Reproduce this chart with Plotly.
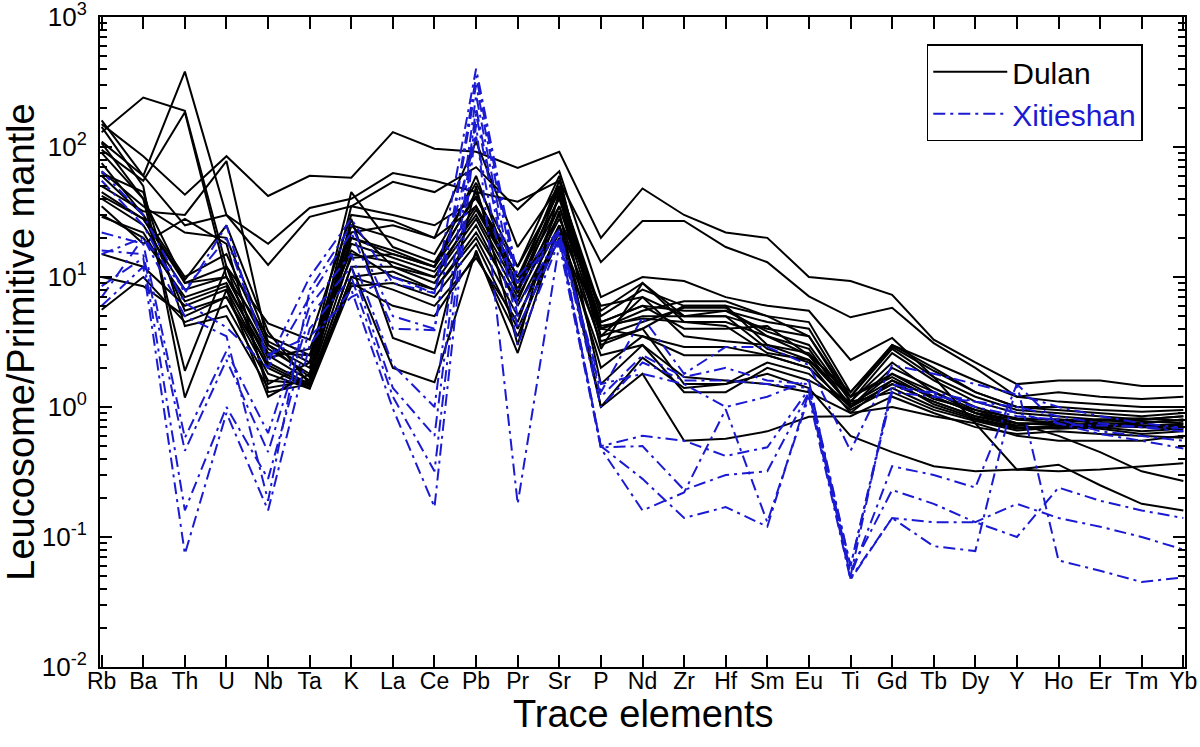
import plotly.graph_objects as go

elements = ["Rb", "Ba", "Th", "U", "Nb", "Ta", "K", "La", "Ce", "Pb", "Pr", "Sr", "P", "Nd",
            "Zr", "Hf", "Sm", "Eu", "Ti", "Gd", "Tb", "Dy", "Y", "Ho", "Er", "Tm", "Yb"]

# Dulan leucosomes (primitive-mantle normalised)
dulan = [
    [150, 85, 43, 85, 42, 60, 58, 130, 97, 92, 69, 92, 20, 48, 30, 22, 20, 10, 9.3, 7.3, 3.3, 2.2, 1.5, 1.6, 1.6, 1.45, 1.45],
    [110, 60, 25, 30, 18, 34, 40, 63, 55, 45, 38, 55, 13, 27, 27, 17, 13, 7.1, 4.9, 5.8, 3.1, 2.0, 1.2, 1.3, 1.2, 1.15, 1.2],
    [160, 60, 380, 30, 12.4, 29, 35, 54, 45, 70, 33, 65, 7, 10, 9.3, 7, 6, 5.5, 2.3, 3.4, 1.7, 0.75, 0.33, 0.36, 0.25, 0.18, 0.16],
    [130, 240, 190, 12, 4.4, 3.3, 30, 27, 20, 110, 17, 50, 5, 8, 6, 6, 5, 4.5, 1.3, 3.0, 2.0, 1.3, 1.0, 0.95, 0.9, 0.85, 0.9],
    [95, 55, 185, 10, 3.5, 2.5, 25, 20, 15, 53, 12, 45, 4.5, 6, 5.5, 5.5, 4.5, 4, 1.2, 2.8, 1.7, 1.2, 0.95, 0.9, 0.85, 0.8, 0.85],
    [65, 35, 22, 20, 3.2, 2.2, 45, 17, 13, 42, 10, 40, 4, 5, 5, 5, 4, 3.5, 1.1, 2.6, 1.6, 1.1, 0.9, 0.85, 0.8, 0.75, 0.8],
    [60, 30, 10, 15, 3.0, 2.0, 20, 15, 12, 35, 9, 35, 3.5, 4.5, 5.8, 5.8, 3.5, 2.5, 1.0, 2.0, 1.4, 1.0, 0.8, 0.75, 0.72, 0.7, 0.72],
    [45, 28, 9, 12, 2.8, 1.8, 18, 14, 11, 30, 8, 30, 3.0, 4, 6, 6, 3, 2.3, 1.2, 1.8, 1.3, 0.95, 0.75, 0.72, 0.7, 0.65, 0.68],
    [40, 25, 8, 10, 2.5, 1.6, 15, 13, 10, 28, 7, 28, 6, 7, 5, 5, 2.8, 2.2, 0.9, 1.6, 1.2, 0.9, 0.7, 0.7, 0.68, 0.62, 0.65],
    [30, 20, 7, 9, 2.2, 1.5, 12, 12, 9, 25, 6, 25, 4, 3.5, 2.9, 2.9, 2.5, 2.0, 1.0, 1.5, 1.1, 0.85, 0.72, 0.78, 0.8, 0.78, 0.75],
    [15, 12, 6, 8, 2.0, 1.4, 10, 11, 8, 20, 5, 22, 3.2, 4, 1.5, 1.5, 2.2, 1.8, 0.95, 1.4, 1.0, 0.8, 0.68, 0.72, 0.75, 0.72, 0.7],
    [10, 8.5, 5, 7, 1.8, 1.38, 8.5, 9, 7, 18, 4, 20, 2.5, 3, 1.3, 1.3, 2.0, 1.6, 1.1, 1.3, 0.95, 0.78, 0.66, 0.7, 0.72, 0.7, 0.68],
    [5.6, 10, 4.5, 6, 1.6, 1.5, 12, 2.0, 1.55, 16, 2.6, 25, 1.0, 1.8, 0.55, 0.57, 0.65, 0.84, 0.85, 1.2, 0.9, 0.7, 0.62, 0.65, 0.62, 0.6, 0.58],
    [63, 45, 4.2, 5, 1.4, 1.6, 28, 3.4, 2.6, 50, 3.0, 45, 1.5, 3, 1.7, 1.6, 1.5, 1.3, 0.9, 1.0, 0.85, 0.75, 0.6, 0.55, 0.55, 0.55, 0.6],
    [143, 50, 1.18, 8, 1.2, 1.8, 35, 30, 25, 40, 12, 60, 2.8, 9, 5, 5.5, 3.8, 3, 1.1, 2.2, 1.3, 0.9, 0.8, 0.8, 0.78, 0.8, 0.85],
    [107, 40, 1.9, 12, 1.5, 2.2, 22, 25, 20, 35, 10, 50, 5.5, 9, 4.5, 4.5, 3.5, 2.8, 1.0, 1.8, 1.2, 0.9, 0.75, 0.75, 0.8, 0.82, 0.78],
    [42, 28, 9.5, 25, 3.8, 1.5, 25, 12, 10, 33, 9, 55, 4, 5.5, 6.5, 6.5, 5, 3.5, 1.2, 3.0, 2.2, 1.6, 1.2, 1.1, 1.05, 1.0, 1.0],
    [29, 22, 6.5, 8.5, 2.4, 2.8, 16, 10, 8, 22, 6.5, 35, 4.5, 6, 4, 4, 4.2, 2.5, 1.3, 2.9, 1.9, 1.3, 1.0, 1.0, 0.95, 0.92, 0.95],
    [50, 32, 30, 78, 3.0, 1.7, 20, 16, 12, 45, 7.5, 42, 4.2, 4.8, 4.5, 4.2, 2.6, 2.3, 1.05, 1.6, 1.05, 0.82, 0.7, 0.68, 0.7, 0.72, 0.74],
    [90, 40, 9, 10, 2.6, 2.5, 14, 15, 12, 60, 8, 48, 3.5, 7, 3.5, 3.2, 3.0, 2.6, 1.2, 1.7, 1.15, 0.95, 0.82, 0.8, 0.75, 0.75, 0.8],
    [75, 30, 5.5, 7, 2.1, 1.45, 10, 8, 6, 14, 4.5, 32, 1.0, 2.4, 1.4, 1.5, 1.8, 1.4, 0.6, 0.45, 0.35, 0.32, 0.33, 0.32, 0.33, 0.35, 0.37],
    [35, 18, 28, 18, 1.3, 1.5, 9, 6, 5, 15, 3.5, 25, 2.0, 3.5, 2.5, 2.5, 2.5, 2.0, 1.0, 1.5, 1.1, 0.85, 0.75, 0.6, 0.45, 0.32, 0.27],
]

# Xitieshan leucosomes
xitieshan = [
    [65, 30, 7.5, 25, 2.2, 10, 28, 9, 7.5, 400, 10, 23, 1.3, 4.9, 1.8, 2.9, 2.9, 2.1, 0.46, 2.1, 1.8, 1.5, 1.25, 1.0, 0.85, 0.75, 0.69],
    [55, 25, 6.3, 4.1, 2.0, 7, 22, 4.0, 3.9, 300, 8, 22, 1.0, 2.2, 1.6, 1.6, 1.5, 1.4, 0.06, 1.3, 1.2, 1.1, 0.9, 0.75, 0.62, 0.55, 0.48],
    [22, 18, 0.58, 2.7, 0.63, 6, 15, 2.1, 1.0, 250, 6, 21, 0.5, 0.6, 0.55, 0.42, 0.49, 1.37, 0.05, 0.35, 0.3, 0.24, 1.5, 0.066, 0.055, 0.045, 0.049],
    [16, 15, 0.46, 2.3, 0.45, 5, 12, 1.4, 0.6, 200, 5, 20, 0.49, 0.5, 0.23, 0.3, 0.32, 1.3, 0.055, 0.23, 0.18, 0.13, 0.18, 0.14, 0.12, 0.1, 0.08],
    [8.5, 14, 0.16, 1.0, 0.28, 4, 10, 1.2, 0.32, 180, 4, 20, 0.5, 0.28, 0.14, 0.17, 0.12, 1.3, 0.048, 0.14, 0.13, 0.13, 0.1, 0.24, 0.19, 0.16, 0.14],
    [6, 12, 0.074, 0.9, 0.16, 3, 8, 0.97, 0.17, 150, 0.18, 18, 0.48, 0.16, 0.22, 0.96, 0.13, 1.2, 0.047, 0.14, 0.085, 0.078, 1.5, 0.73, 0.72, 0.7, 0.69],
    [7, 20, 5, 3.5, 0.19, 8, 25, 5, 4, 350, 9, 22, 1.2, 2.5, 1.7, 2.0, 1.6, 1.5, 0.06, 1.4, 1.3, 1.1, 1.0, 0.85, 0.75, 0.7, 0.65],
    [15, 20, 8, 20, 2.5, 3.5, 7, 10, 7.5, 120, 3, 19, 1.5, 1.8, 1.5, 1.0, 1.2, 1.6, 0.05, 1.5, 1.25, 1.0, 0.85, 0.8, 0.65, 0.6, 0.55],
]

series_names = ["Dulan", "Xitieshan"]
colors = {"Dulan": "black", "Xitieshan": "#1a1ad2"}
dashes = {"Dulan": "solid", "Xitieshan": "12px,5px,3px,5px"}

fig = go.Figure()
for name, group in zip(series_names, [dulan, xitieshan]):
    label = f"<span style='color:{colors[name]}'>{name}</span>"
    for i, vals in enumerate(group):
        fig.add_trace(go.Scatter(
            x=list(range(len(elements))), y=vals, mode="lines",
            line=dict(color=colors[name], width=2, dash=dashes[name]),
            name=label, legendgroup=name, showlegend=(i == 0),
            hoverinfo="skip"))

y_exps = [-2, -1, 0, 1, 2, 3]
font_family = "Liberation Sans, Arial, sans-serif"

fig.update_layout(
    width=1200, height=747,
    margin=dict(l=100, r=15, t=17, b=80, autoexpand=False),
    paper_bgcolor="white", plot_bgcolor="white",
    font=dict(family=font_family, color="black"),
    legend=dict(
        x=0.762, y=0.958, xanchor="left", yanchor="top",
        bordercolor="black", borderwidth=1.5, bgcolor="white",
        font=dict(size=30, family=font_family),
        itemwidth=74, tracegroupgap=0,
    ),
    annotations=[dict(
        text="Trace elements", xref="paper", yref="paper", x=0.5, y=0,
        xanchor="center", yanchor="middle", yshift=-47, showarrow=False,
        font=dict(size=38, family=font_family, color="black"),
    )],
)

fig.update_xaxes(
    tickmode="array", tickvals=list(range(len(elements))), ticktext=elements,
    range=[-0.04, 26.04], automargin=False,
    showline=True, linecolor="black", linewidth=2, mirror="ticks",
    ticks="inside", ticklen=12, tickwidth=2, tickcolor="black",
    ticklabelstandoff=-8, ticklabeloverflow="allow",
    showgrid=False, zeroline=False,
    tickfont=dict(size=23, family=font_family),
)

fig.update_yaxes(
    type="log", range=[-2, 3], automargin=False,
    tickmode="array", tickvals=[10 ** e for e in y_exps],
    ticktext=[f"10<sup>{e}</sup>" for e in y_exps],
    showline=True, linecolor="black", linewidth=2, mirror="ticks",
    ticks="inside", ticklen=12, tickwidth=2, tickcolor="black",
    ticklabelstandoff=6, ticklabeloverflow="allow",
    minor=dict(ticks="inside", ticklen=7, tickwidth=1.5, tickcolor="black", dtick="D1", showgrid=False),
    showgrid=False, zeroline=False,
    tickfont=dict(size=26, family=font_family),
    title=dict(text="Leucosome/Primitive mantle", font=dict(size=38, family=font_family), standoff=20),
)

fig.write_html("out.html", config={"displayModeBar": False},
               post_script="document.body.style.margin='0';")
